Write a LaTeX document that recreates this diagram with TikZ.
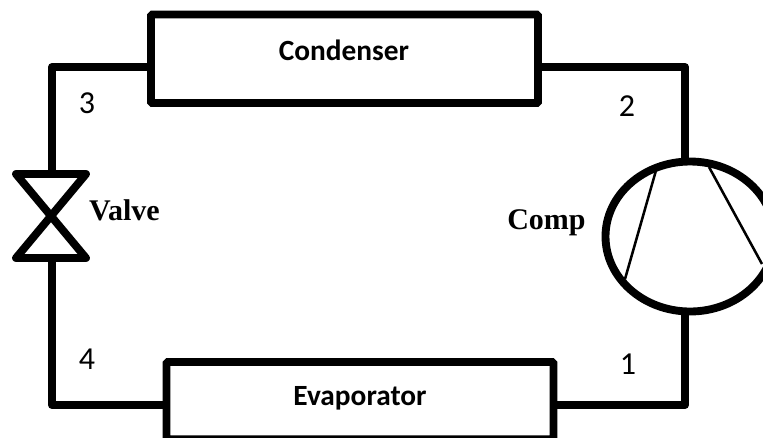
\documentclass[tikz,border=0pt]{standalone}
\usepackage{fontspec}
\setmainfont{Carlito}
\newfontfamily\serifb{Liberation Serif}[BoldFont={Liberation Serif Bold}]
\usetikzlibrary{shapes.geometric}
\tikzset{
  pipe/.style={line width=5.9pt,line join=round,line cap=butt},
  unit/.style={draw,line width=5.9pt,rounded corners=1pt,rectangle,inner sep=0pt,outer sep=0pt},
  blade/.style={line width=1.9pt},
  ulabel/.style={font=\fontsize{22pt}{24pt}\selectfont\bfseries,inner sep=0pt},
  numlabel/.style={font=\fontsize{24pt}{26pt}\selectfont,inner sep=0pt},
  seriflabel/.style={font=\serifb\fontsize{22.5pt}{24pt}\selectfont\bfseries,inner sep=0pt}
}
\begin{document}
\begin{tikzpicture}[x=0.75pt,y=-0.75pt]
\useasboundingbox (0,0) rectangle (763,437);
\clip (0,0) rectangle (763,437);
\fill[white] (0,0) rectangle (763,437);
\node[unit,minimum width=290.25pt,minimum height=66.4pt] (cond) at (344.5,58.75) {};
\node[unit,minimum width=290.25pt,minimum height=58pt] (evap) at (360,400.7) {};
\node[draw,ellipse,line width=5.9pt,inner sep=0pt,outer sep=0pt,minimum width=126.75pt,minimum height=112.5pt] (comp) at (690,236.5) {};
\coordinate (tl) at (52,67);
\coordinate (tr) at (685,67);
\coordinate (bl) at (52,405);
\coordinate (br) at (685,405);
\coordinate (vt) at (52,174);
\coordinate (vb) at (52,258);
\coordinate (vtl) at (16,174);
\coordinate (vtr) at (86,174);
\coordinate (vbl) at (16,258);
\coordinate (vbr) at (86,258);
\coordinate (ct) at (685,162);
\coordinate (cb) at (685,311);
\coordinate (b1a) at (656.7,168);
\coordinate (b1b) at (625,279);
\coordinate (b2a) at (709,167);
\coordinate (b2b) at (762,264);
\draw[pipe] (cond.west |- tl) -- (tl) -- (vt);
\draw[pipe] (cond.east |- tr) -- (tr) -- (ct);
\draw[pipe] (evap.west |- bl) -- (bl) -- (vb);
\draw[pipe] (evap.east |- br) -- (br) -- (cb);
\draw[pipe] (vtl) -- (vtr) -- (vbl) -- (vbr) -- cycle;
\draw[blade] (b1a) -- (b1b);
\draw[blade] (b2a) -- (b2b);
\node[ulabel] (tcond) at (344,50) {Condenser};
\node[ulabel] (tevap) at (360,398) {Evaporator};
\node[numlabel] (n3) at (87,103) {3};
\node[numlabel] (n2) at (627,106) {2};
\node[numlabel] (n4) at (87,359) {4};
\node[numlabel] (n1) at (628,364) {1};
\node[seriflabel] (tvalve) at (124.5,210) {Valve};
\node[seriflabel] (tcomp) at (546.5,223) {Comp};
\end{tikzpicture}
\end{document}
